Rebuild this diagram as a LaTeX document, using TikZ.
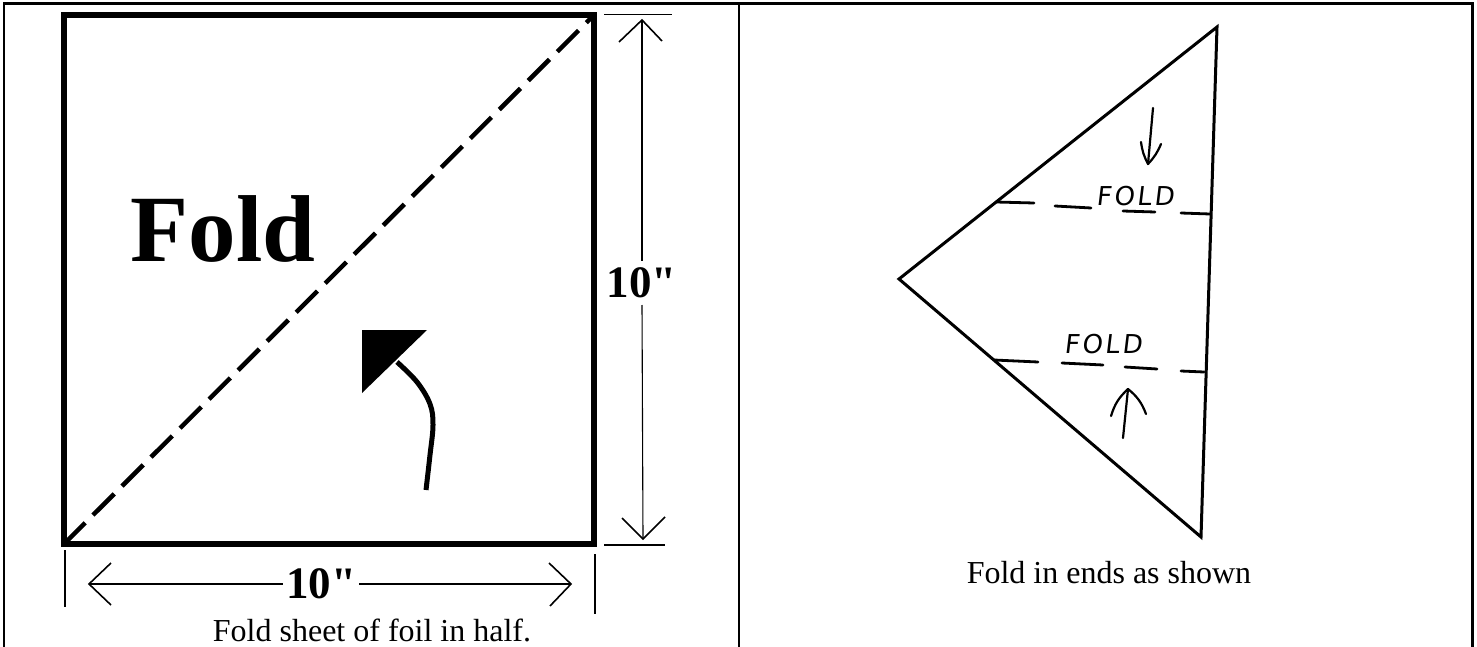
\documentclass[tikz,border=0pt]{standalone}
\usepackage{fontspec}
\setmainfont{Liberation Serif}
\newfontfamily\dimfont{Liberation Serif}[Ligatures=TeXOff]
\newfontfamily\handfont[FakeSlant=0.12,LetterSpace=10]{DejaVu Sans}
\begin{document}
\begin{tikzpicture}[x=1pt,y=-1pt,
  frame/.style={line width=2.2pt},
  sheet/.style={line width=5.5pt},
  diag/.style={line width=4.5pt, dash pattern=on 30pt off 11pt},
  dimline/.style={line width=1.1pt},
  dimhead/.style={line width=1.6pt},
  dimlabel/.style={anchor=base, inner sep=0pt, font=\dimfont\bfseries\fontsize{45}{45}\selectfont},
  caption/.style={anchor=base, inner sep=0pt, font=\fontsize{32}{32}\selectfont},
  tri/.style={line width=3pt, line join=miter},
  foldline/.style={line width=2.8pt, line cap=round},
  hand/.style={line width=2.2pt, line cap=round, line join=round},
  handtext/.style={anchor=base, inner sep=0pt, font=\handfont\fontsize{26}{26}\selectfont}
]
\useasboundingbox (0,0) rectangle (1477,647);

% table frame
\coordinate (f1) at (4,647);
\coordinate (f2) at (4,3.5);
\coordinate (f3) at (1472.5,3.5);
\coordinate (f4) at (1472.5,647);
\coordinate (d1) at (739,3.5);
\coordinate (d2) at (739,647);
\draw[frame] (f1) -- (f2) -- (f3) -- (f4);
\draw[frame] (d1) -- (d2);

% ---------- left panel ----------
\coordinate (sq1) at (64,544);
\coordinate (sq2) at (594,544);
\coordinate (sq3) at (594,15);
\coordinate (sq4) at (64,15);
\draw[sheet] (sq1) -- (sq2) -- (sq3) -- (sq4) -- cycle;
\draw[diag] (sq1) -- (sq3);

\node[anchor=base, inner sep=0pt, font=\bfseries\fontsize{95}{95}\selectfont] (foldtxt) at (223,261) {Fold};

% curved arrow
\coordinate (ha) at (362,330);
\coordinate (hb) at (427,330);
\coordinate (hc) at (362,393);
\fill (ha) -- (hb) -- (hc) -- cycle;
\draw[line width=5pt] plot[smooth, tension=0.6] coordinates {(426,490) (430,455) (433,425) (430,404) (417,382) (397,362)};

% vertical dimension
\coordinate (ve1a) at (604,14.5);
\coordinate (ve1b) at (672,14.5);
\coordinate (ve2a) at (604,545);
\coordinate (ve2b) at (665,545);
\draw[dimline] (ve1a) -- (ve1b);
\draw[dimline] (ve2a) -- (ve2b);
\node[dimlabel] (vlab) at (641.5,297) {10"};
\coordinate (vt) at (642,20);
\coordinate (vtm) at (642,261);
\coordinate (vbm) at (642,305);
\coordinate (vb) at (643,539);
\draw[dimline] (vt) -- (vtm);
\draw[dimline] (vbm) -- (vb);
\coordinate (vta) at (619,42);
\coordinate (vtb) at (662,41);
\draw[dimhead] (vta) -- (vt) -- (vtb);
\coordinate (vba) at (622,518);
\coordinate (vbb) at (665,517);
\draw[dimhead] (vba) -- (vb) -- (vbb);

% horizontal dimension
\coordinate (he1a) at (65,550);
\coordinate (he1b) at (65,607);
\coordinate (he2a) at (595,554);
\coordinate (he2b) at (595,614);
\draw[dimline] (he1a) -- (he1b);
\draw[dimline] (he2a) -- (he2b);
\node[dimlabel] (hlab) at (321,598) {10"};
\coordinate (hl) at (89,584);
\coordinate (hlm) at (283,584);
\coordinate (hrm) at (359,584);
\coordinate (hr) at (571,584);
\draw[dimline] (hl) -- (hlm);
\draw[dimline] (hrm) -- (hr);
\coordinate (hla) at (111,563);
\coordinate (hlb) at (111,605);
\draw[dimhead] (hla) -- (hl) -- (hlb);
\coordinate (hra) at (549,563);
\coordinate (hrb) at (550,606);
\draw[dimhead] (hra) -- (hr) -- (hrb);

\node[caption] (capL) at (372,641) {Fold sheet of foil in half.};

% ---------- right panel ----------
\coordinate (tt) at (1217,27);
\coordinate (tl) at (899,279);
\coordinate (tb) at (1201,537);
\draw[tri] (tt) -- (tl) -- (tb) -- cycle;

% upper fold
\coordinate (u1a) at (996,202);  \coordinate (u1b) at (1034,203);
\coordinate (u2a) at (1055,206); \coordinate (u2b) at (1091,208);
\coordinate (u3a) at (1123,211); \coordinate (u3b) at (1155,212);
\coordinate (u4a) at (1181,213); \coordinate (u4b) at (1210,214);
\draw[foldline] (u1a) -- (u1b);
\draw[foldline] (u2a) -- (u2b);
\draw[foldline] (u3a) -- (u3b);
\draw[foldline] (u4a) -- (u4b);
\node[handtext] (fu) at (1135,205) {FOLD};

% down arrow
\coordinate (das) at (1153,108);
\coordinate (dat) at (1148,164);
\coordinate (daa) at (1141,142);
\coordinate (dab) at (1161,144);
\draw[hand] (das) -- (dat);
\draw[hand] (daa) to[bend right=10] (dat) to[bend right=10] (dab);

% lower fold
\coordinate (l1a) at (994,360);  \coordinate (l1b) at (1038,362);
\coordinate (l2a) at (1062,363); \coordinate (l2b) at (1103,365);
\coordinate (l3a) at (1125,367); \coordinate (l3b) at (1157,369);
\coordinate (l4a) at (1181,371); \coordinate (l4b) at (1204,372);
\draw[foldline] (l1a) -- (l1b);
\draw[foldline] (l2a) -- (l2b);
\draw[foldline] (l3a) -- (l3b);
\draw[foldline] (l4a) -- (l4b);
\node[handtext] (fl) at (1103,353) {FOLD};

% up arrow
\coordinate (uas) at (1123,438);
\coordinate (uat) at (1128,389);
\coordinate (uaa) at (1111,416);
\coordinate (uab) at (1146,414);
\draw[hand] (uas) -- (uat);
\draw[hand] (uaa) to[bend left=15] (uat) to[bend left=15] (uab);

\node[caption] (capR) at (1109,583) {Fold in ends as shown};
\end{tikzpicture}
\end{document}
